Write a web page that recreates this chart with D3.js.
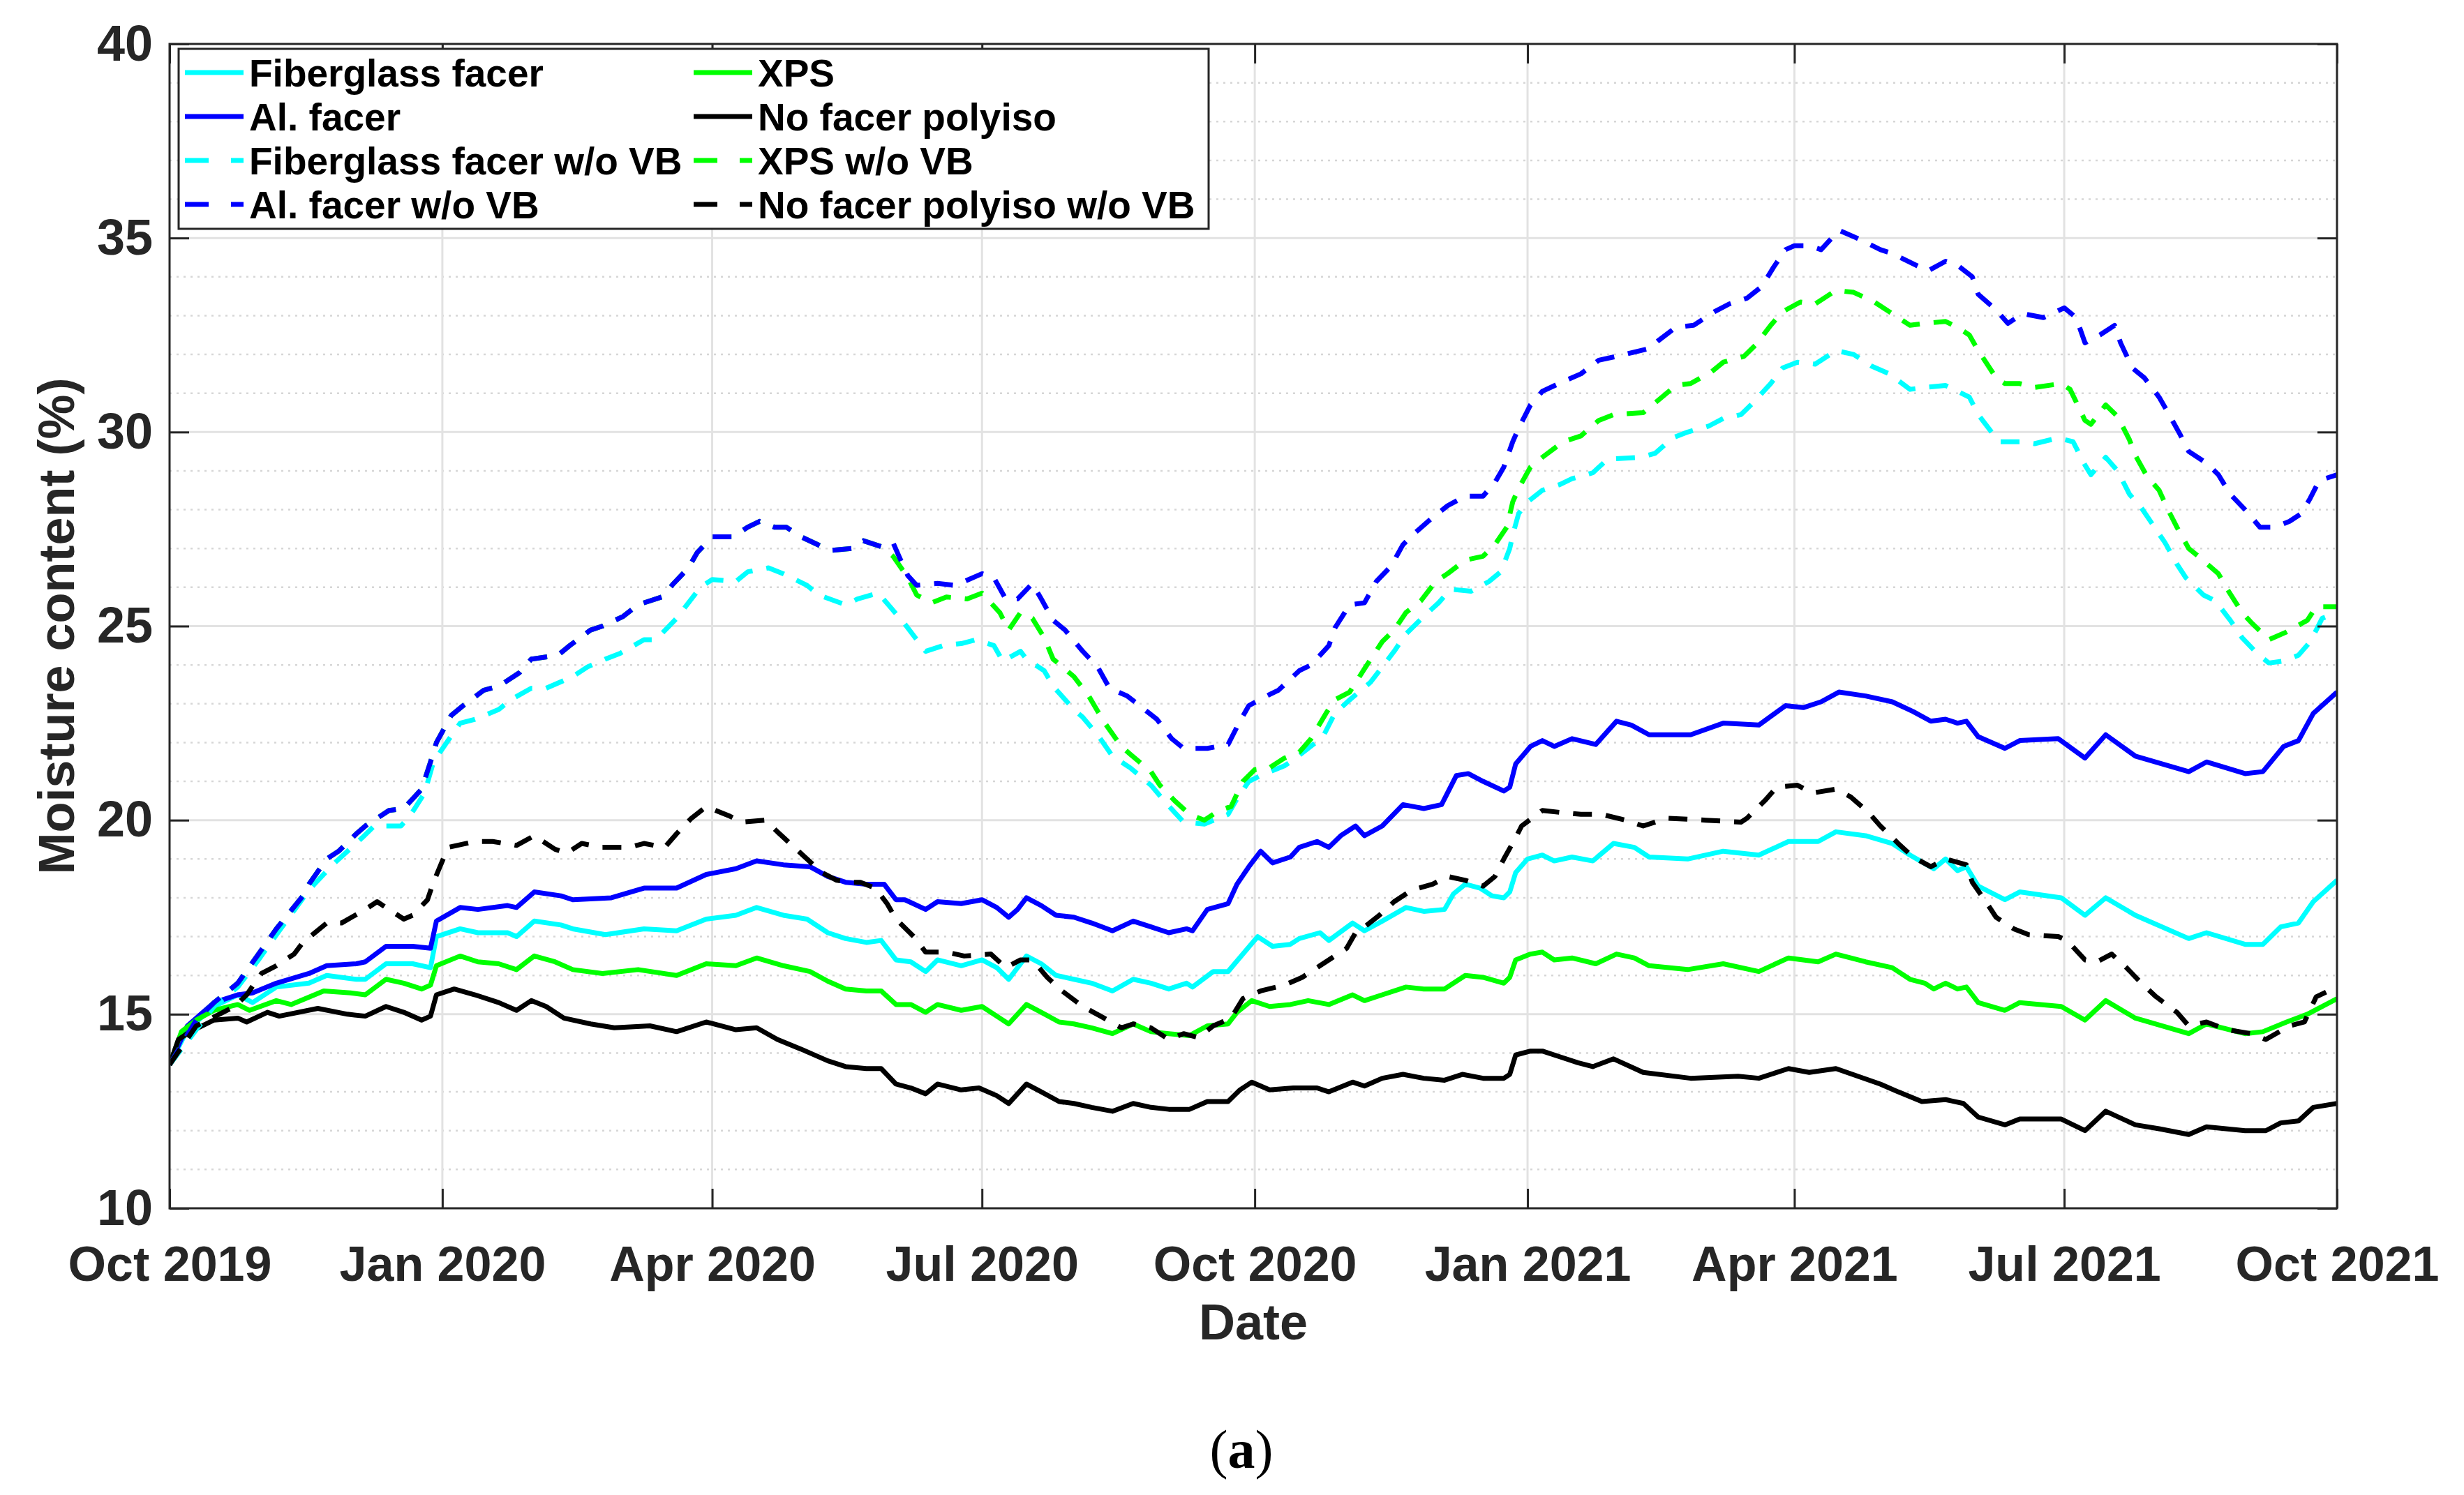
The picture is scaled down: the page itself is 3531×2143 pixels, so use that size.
<!DOCTYPE html>
<html lang="en">
<head>
<meta charset="UTF-8">
<title>Moisture content</title>
<script src="https://cdn.jsdelivr.net/npm/d3@7"></script>
<style>
  body { margin: 0; background: #fff; }
  text { font-family: "Liberation Sans", Arial, sans-serif; font-weight: bold; fill: #262626; }
</style>
</head>
<body>
<svg id="main" width="3531" height="2143"></svg>
<script>
// values: [date, moisture content %]
const fiberglass = [["2019-10-01",13.7],["2019-10-07",14.6],["2019-10-16",15.2],["2019-10-24",15.5],["2019-10-29",15.3],["2019-11-06",15.7],["2019-11-17",15.8],["2019-11-23",16.0],["2019-12-03",15.9],["2019-12-06",15.9],["2019-12-13",16.3],["2019-12-22",16.3],["2019-12-28",16.2],["2019-12-30",17.0],["2020-01-07",17.2],["2020-01-13",17.1],["2020-01-23",17.1],["2020-01-26",17.0],["2020-02-01",17.4],["2020-02-10",17.3],["2020-02-14",17.2],["2020-02-25",17.05],["2020-03-09",17.2],["2020-03-20",17.15],["2020-03-30",17.45],["2020-04-09",17.55],["2020-04-16",17.75],["2020-04-25",17.55],["2020-05-03",17.45],["2020-05-10",17.1],["2020-05-16",16.95],["2020-05-23",16.85],["2020-05-28",16.9],["2020-06-02",16.4],["2020-06-07",16.35],["2020-06-12",16.1],["2020-06-16",16.4],["2020-06-24",16.25],["2020-07-01",16.4],["2020-07-06",16.2],["2020-07-10",15.9],["2020-07-16",16.5],["2020-07-21",16.3],["2020-07-26",16.0],["2020-08-01",15.9],["2020-08-07",15.8],["2020-08-14",15.6],["2020-08-21",15.9],["2020-08-27",15.8],["2020-09-02",15.65],["2020-09-08",15.8],["2020-09-10",15.7],["2020-09-17",16.1],["2020-09-22",16.1],["2020-09-27",16.55],["2020-10-02",17.0],["2020-10-07",16.75],["2020-10-13",16.8],["2020-10-16",16.95],["2020-10-23",17.1],["2020-10-26",16.9],["2020-11-03",17.35],["2020-11-07",17.15],["2020-11-13",17.4],["2020-11-21",17.75],["2020-11-27",17.65],["2020-12-04",17.7],["2020-12-07",18.1],["2020-12-11",18.35],["2020-12-16",18.25],["2020-12-20",18.05],["2020-12-24",18.0],["2020-12-26",18.15],["2020-12-28",18.65],["2021-01-01",19.0],["2021-01-06",19.1],["2021-01-10",18.95],["2021-01-16",19.05],["2021-01-23",18.95],["2021-01-30",19.4],["2021-02-06",19.3],["2021-02-11",19.05],["2021-02-24",19.0],["2021-03-08",19.2],["2021-03-20",19.1],["2021-03-30",19.45],["2021-04-09",19.45],["2021-04-15",19.7],["2021-04-25",19.6],["2021-05-04",19.4],["2021-05-10",19.1],["2021-05-18",18.75],["2021-05-22",19.0],["2021-05-26",18.7],["2021-05-29",18.8],["2021-06-02",18.3],["2021-06-11",17.95],["2021-06-16",18.15],["2021-06-30",18.0],["2021-07-08",17.55],["2021-07-15",18.0],["2021-07-25",17.55],["2021-08-12",16.95],["2021-08-18",17.1],["2021-08-31",16.8],["2021-09-06",16.8],["2021-09-12",17.25],["2021-09-18",17.35],["2021-09-23",17.9],["2021-10-01",18.45]];

const alFacer = [["2019-10-01",13.7],["2019-10-07",14.7],["2019-10-16",15.3],["2019-10-24",15.5],["2019-10-29",15.55],["2019-11-06",15.8],["2019-11-17",16.05],["2019-11-23",16.25],["2019-12-03",16.3],["2019-12-06",16.35],["2019-12-13",16.75],["2019-12-22",16.75],["2019-12-28",16.7],["2019-12-30",17.4],["2020-01-07",17.75],["2020-01-13",17.7],["2020-01-23",17.8],["2020-01-26",17.75],["2020-02-01",18.15],["2020-02-10",18.05],["2020-02-14",17.95],["2020-02-27",18.0],["2020-03-09",18.25],["2020-03-20",18.25],["2020-03-30",18.6],["2020-04-09",18.75],["2020-04-16",18.95],["2020-04-25",18.85],["2020-05-04",18.8],["2020-05-10",18.55],["2020-05-16",18.4],["2020-05-23",18.35],["2020-05-29",18.35],["2020-06-02",17.95],["2020-06-05",17.95],["2020-06-12",17.7],["2020-06-16",17.9],["2020-06-24",17.85],["2020-07-01",17.95],["2020-07-06",17.75],["2020-07-10",17.5],["2020-07-13",17.7],["2020-07-16",18.0],["2020-07-21",17.8],["2020-07-26",17.55],["2020-08-01",17.5],["2020-08-07",17.35],["2020-08-14",17.15],["2020-08-21",17.4],["2020-08-27",17.25],["2020-09-02",17.1],["2020-09-08",17.2],["2020-09-10",17.15],["2020-09-15",17.7],["2020-09-22",17.85],["2020-09-25",18.35],["2020-09-29",18.8],["2020-10-03",19.2],["2020-10-07",18.9],["2020-10-13",19.05],["2020-10-16",19.3],["2020-10-22",19.45],["2020-10-26",19.3],["2020-10-30",19.6],["2020-11-04",19.85],["2020-11-07",19.6],["2020-11-13",19.85],["2020-11-20",20.4],["2020-11-27",20.3],["2020-12-03",20.4],["2020-12-08",21.15],["2020-12-12",21.2],["2020-12-17",21.0],["2020-12-24",20.75],["2020-12-26",20.85],["2020-12-28",21.45],["2021-01-02",21.9],["2021-01-06",22.05],["2021-01-10",21.9],["2021-01-16",22.1],["2021-01-24",21.95],["2021-01-31",22.55],["2021-02-05",22.45],["2021-02-11",22.2],["2021-02-25",22.2],["2021-03-08",22.5],["2021-03-20",22.45],["2021-03-29",22.95],["2021-04-04",22.9],["2021-04-10",23.05],["2021-04-16",23.3],["2021-04-25",23.2],["2021-05-04",23.05],["2021-05-11",22.8],["2021-05-17",22.55],["2021-05-22",22.6],["2021-05-26",22.5],["2021-05-29",22.55],["2021-06-02",22.15],["2021-06-11",21.85],["2021-06-16",22.05],["2021-06-29",22.1],["2021-07-08",21.6],["2021-07-15",22.2],["2021-07-25",21.65],["2021-08-12",21.25],["2021-08-18",21.5],["2021-08-31",21.2],["2021-09-06",21.25],["2021-09-13",21.9],["2021-09-18",22.05],["2021-09-23",22.75],["2021-10-01",23.3]];

const xps = [["2019-10-01",13.7],["2019-10-05",14.55],["2019-10-10",14.85],["2019-10-16",15.1],["2019-10-24",15.25],["2019-10-28",15.1],["2019-11-06",15.35],["2019-11-11",15.25],["2019-11-22",15.6],["2019-12-01",15.55],["2019-12-06",15.5],["2019-12-13",15.9],["2019-12-19",15.8],["2019-12-25",15.65],["2019-12-28",15.75],["2019-12-30",16.25],["2020-01-07",16.5],["2020-01-13",16.35],["2020-01-20",16.3],["2020-01-26",16.15],["2020-02-01",16.5],["2020-02-08",16.35],["2020-02-14",16.15],["2020-02-24",16.05],["2020-03-07",16.15],["2020-03-20",16.0],["2020-03-30",16.3],["2020-04-09",16.25],["2020-04-16",16.45],["2020-04-25",16.25],["2020-05-04",16.1],["2020-05-10",15.85],["2020-05-16",15.65],["2020-05-23",15.6],["2020-05-28",15.6],["2020-06-02",15.25],["2020-06-07",15.25],["2020-06-12",15.05],["2020-06-16",15.25],["2020-06-24",15.1],["2020-07-01",15.2],["2020-07-06",14.95],["2020-07-10",14.75],["2020-07-16",15.25],["2020-07-21",15.05],["2020-07-27",14.8],["2020-08-01",14.75],["2020-08-07",14.65],["2020-08-14",14.5],["2020-08-21",14.75],["2020-08-27",14.55],["2020-09-02",14.5],["2020-09-09",14.45],["2020-09-15",14.7],["2020-09-22",14.75],["2020-09-25",15.05],["2020-09-30",15.35],["2020-10-06",15.2],["2020-10-13",15.25],["2020-10-19",15.35],["2020-10-26",15.25],["2020-11-03",15.5],["2020-11-07",15.35],["2020-11-13",15.5],["2020-11-21",15.7],["2020-11-27",15.65],["2020-12-04",15.65],["2020-12-11",16.0],["2020-12-17",15.95],["2020-12-24",15.8],["2020-12-26",15.95],["2020-12-28",16.4],["2021-01-02",16.55],["2021-01-06",16.6],["2021-01-10",16.4],["2021-01-16",16.45],["2021-01-24",16.3],["2021-01-31",16.55],["2021-02-06",16.45],["2021-02-11",16.25],["2021-02-24",16.15],["2021-03-08",16.3],["2021-03-20",16.1],["2021-03-30",16.45],["2021-04-09",16.35],["2021-04-15",16.55],["2021-04-25",16.35],["2021-05-04",16.2],["2021-05-10",15.9],["2021-05-15",15.8],["2021-05-18",15.65],["2021-05-22",15.8],["2021-05-26",15.65],["2021-05-29",15.7],["2021-06-02",15.3],["2021-06-11",15.1],["2021-06-16",15.3],["2021-06-30",15.2],["2021-07-08",14.85],["2021-07-15",15.35],["2021-07-25",14.9],["2021-08-12",14.5],["2021-08-18",14.75],["2021-08-31",14.5],["2021-09-06",14.55],["2021-09-14",14.8],["2021-09-21",15.0],["2021-10-01",15.4]];

const noFacer = [["2019-10-01",13.7],["2019-10-04",14.35],["2019-10-08",14.55],["2019-10-16",14.85],["2019-10-24",14.9],["2019-10-27",14.8],["2019-11-03",15.05],["2019-11-07",14.95],["2019-11-20",15.15],["2019-11-30",15.0],["2019-12-06",14.95],["2019-12-13",15.2],["2019-12-19",15.05],["2019-12-25",14.85],["2019-12-28",14.95],["2019-12-30",15.5],["2020-01-05",15.65],["2020-01-12",15.5],["2020-01-20",15.3],["2020-01-26",15.1],["2020-01-31",15.35],["2020-02-05",15.2],["2020-02-11",14.9],["2020-02-20",14.75],["2020-02-28",14.65],["2020-03-11",14.7],["2020-03-20",14.55],["2020-03-30",14.8],["2020-04-09",14.6],["2020-04-16",14.65],["2020-04-23",14.35],["2020-05-01",14.1],["2020-05-10",13.8],["2020-05-16",13.65],["2020-05-23",13.6],["2020-05-28",13.6],["2020-06-02",13.2],["2020-06-07",13.1],["2020-06-12",12.95],["2020-06-16",13.2],["2020-06-24",13.05],["2020-06-30",13.1],["2020-07-06",12.9],["2020-07-10",12.7],["2020-07-16",13.2],["2020-07-21",13.0],["2020-07-27",12.75],["2020-08-01",12.7],["2020-08-07",12.6],["2020-08-14",12.5],["2020-08-21",12.7],["2020-08-27",12.6],["2020-09-02",12.55],["2020-09-09",12.55],["2020-09-15",12.75],["2020-09-22",12.75],["2020-09-26",13.05],["2020-09-30",13.25],["2020-10-06",13.05],["2020-10-14",13.1],["2020-10-22",13.1],["2020-10-26",13.0],["2020-11-03",13.25],["2020-11-07",13.15],["2020-11-13",13.35],["2020-11-20",13.45],["2020-11-27",13.35],["2020-12-04",13.3],["2020-12-10",13.45],["2020-12-17",13.35],["2020-12-24",13.35],["2020-12-26",13.45],["2020-12-28",13.95],["2021-01-02",14.05],["2021-01-06",14.05],["2021-01-12",13.9],["2021-01-18",13.75],["2021-01-23",13.65],["2021-01-30",13.85],["2021-02-09",13.5],["2021-02-25",13.35],["2021-03-13",13.4],["2021-03-20",13.35],["2021-03-30",13.6],["2021-04-06",13.5],["2021-04-15",13.6],["2021-04-30",13.2],["2021-05-06",13.0],["2021-05-14",12.75],["2021-05-22",12.8],["2021-05-28",12.7],["2021-06-02",12.35],["2021-06-11",12.15],["2021-06-16",12.3],["2021-06-30",12.3],["2021-07-08",12.0],["2021-07-15",12.5],["2021-07-25",12.15],["2021-08-02",12.05],["2021-08-12",11.9],["2021-08-18",12.1],["2021-08-31",12.0],["2021-09-07",12.0],["2021-09-12",12.2],["2021-09-18",12.25],["2021-09-23",12.6],["2021-10-01",12.7]];

const fiberglassVB = [["2019-10-01",13.7],["2019-10-16",15.2],["2019-10-24",15.7],["2019-10-31",16.4],["2019-11-07",17.15],["2019-11-17",18.2],["2019-11-25",18.85],["2019-12-05",19.55],["2019-12-09",19.85],["2019-12-18",19.85],["2019-12-21",20.1],["2019-12-26",20.7],["2019-12-29",21.5],["2020-01-02",21.95],["2020-01-07",22.5],["2020-01-12",22.6],["2020-01-20",22.85],["2020-01-24",23.1],["2020-01-31",23.4],["2020-02-05",23.4],["2020-02-14",23.7],["2020-02-19",23.95],["2020-02-25",24.15],["2020-03-01",24.3],["2020-03-09",24.65],["2020-03-13",24.65],["2020-03-20",25.2],["2020-03-24",25.6],["2020-03-28",26.0],["2020-04-01",26.2],["2020-04-09",26.15],["2020-04-13",26.4],["2020-04-20",26.5],["2020-04-25",26.35],["2020-05-03",26.05],["2020-05-07",25.8],["2020-05-16",25.55],["2020-05-20",25.7],["2020-05-27",25.85],["2020-05-31",25.5],["2020-06-05",25.05],["2020-06-12",24.35],["2020-06-18",24.5],["2020-06-24",24.55],["2020-06-29",24.65],["2020-07-05",24.5],["2020-07-08",24.1],["2020-07-14",24.35],["2020-07-16",24.15],["2020-07-22",23.85],["2020-07-25",23.45],["2020-08-01",22.85],["2020-08-04",22.65],["2020-08-09",22.2],["2020-08-14",21.65],["2020-08-20",21.35],["2020-08-27",20.9],["2020-09-01",20.45],["2020-09-07",19.95],["2020-09-14",19.9],["2020-09-22",20.15],["2020-09-25",20.55],["2020-09-29",21.0],["2020-10-03",21.15],["2020-10-11",21.4],["2020-10-14",21.55],["2020-10-19",21.85],["2020-10-24",22.15],["2020-10-28",22.75],["2020-11-02",23.1],["2020-11-09",23.55],["2020-11-17",24.35],["2020-11-21",24.8],["2020-11-27",25.25],["2020-12-02",25.6],["2020-12-06",25.95],["2020-12-13",25.9],["2020-12-19",26.15],["2020-12-23",26.4],["2020-12-26",27.0],["2020-12-27",27.35],["2020-12-29",27.9],["2021-01-01",28.2],["2021-01-06",28.5],["2021-01-12",28.65],["2021-01-16",28.8],["2021-01-23",28.95],["2021-01-28",29.3],["2021-02-08",29.35],["2021-02-13",29.45],["2021-02-19",29.85],["2021-02-24",30.0],["2021-03-03",30.15],["2021-03-08",30.35],["2021-03-14",30.45],["2021-03-18",30.75],["2021-03-24",31.25],["2021-03-28",31.65],["2021-04-02",31.8],["2021-04-08",31.75],["2021-04-15",32.1],["2021-04-21",32.0],["2021-04-27",31.7],["2021-05-03",31.5],["2021-05-10",31.1],["2021-05-15",31.15],["2021-05-22",31.2],["2021-05-26",31.05],["2021-05-30",30.9],["2021-06-02",30.45],["2021-06-06",30.05],["2021-06-09",29.75],["2021-06-16",29.75],["2021-06-21",29.7],["2021-06-29",29.85],["2021-07-04",29.75],["2021-07-08",29.15],["2021-07-10",28.9],["2021-07-15",29.35],["2021-07-19",29.0],["2021-07-23",28.4],["2021-07-27",28.05],["2021-07-31",27.6],["2021-08-04",27.15],["2021-08-08",26.6],["2021-08-11",26.25],["2021-08-17",25.8],["2021-08-21",25.65],["2021-08-26",25.15],["2021-08-30",24.7],["2021-09-04",24.3],["2021-09-08",24.05],["2021-09-13",24.1],["2021-09-18",24.25],["2021-09-22",24.6],["2021-09-26",25.2],["2021-10-01",25.35]];

// Al. facer w/o VB and XPS w/o VB lie on top of each other until late May 2020
const vbShared = [["2019-10-01",13.7],["2019-10-10",14.85],["2019-10-16",15.3],["2019-10-24",15.8],["2019-10-31",16.55],["2019-11-06",17.2],["2019-11-15",18.05],["2019-11-17",18.35],["2019-11-23",19.0],["2019-11-27",19.2],["2019-12-03",19.65],["2019-12-06",19.85],["2019-12-14",20.25],["2019-12-19",20.3],["2019-12-25",20.8],["2019-12-28",21.5],["2019-12-30",22.0],["2020-01-04",22.7],["2020-01-08",22.95],["2020-01-15",23.35],["2020-01-20",23.45],["2020-01-27",23.8],["2020-01-31",24.15],["2020-02-09",24.25],["2020-02-13",24.5],["2020-02-20",24.9],["2020-02-24",25.0],["2020-03-02",25.25],["2020-03-07",25.55],["2020-03-15",25.75],["2020-03-19",26.1],["2020-03-24",26.5],["2020-03-27",26.9],["2020-04-01",27.3],["2020-04-08",27.3],["2020-04-13",27.55],["2020-04-17",27.7],["2020-04-22",27.55],["2020-04-26",27.55],["2020-05-01",27.3],["2020-05-08",27.05],["2020-05-11",26.95],["2020-05-18",27.0],["2020-05-22",27.2],["2020-05-28",27.05]];

const alFacerVB = vbShared.concat([["2020-06-01",27.15],["2020-06-03",26.8],["2020-06-06",26.3],["2020-06-09",26.05],["2020-06-16",26.1],["2020-06-22",26.05],["2020-07-01",26.35],["2020-07-05",26.25],["2020-07-09",25.7],["2020-07-13",25.7],["2020-07-18",26.1],["2020-07-21",25.7],["2020-07-25",25.15],["2020-07-29",24.9],["2020-08-04",24.35],["2020-08-09",23.95],["2020-08-13",23.4],["2020-08-19",23.2],["2020-08-24",22.9],["2020-08-29",22.6],["2020-09-03",22.1],["2020-09-07",21.85],["2020-09-15",21.85],["2020-09-22",21.95],["2020-09-26",22.55],["2020-09-29",22.95],["2020-10-05",23.2],["2020-10-09",23.35],["2020-10-16",23.85],["2020-10-20",24.0],["2020-10-26",24.5],["2020-10-28",24.95],["2020-11-02",25.55],["2020-11-07",25.6],["2020-11-11",26.15],["2020-11-16",26.55],["2020-11-20",27.1],["2020-11-24",27.4],["2020-11-30",27.8],["2020-12-05",28.1],["2020-12-11",28.35],["2020-12-17",28.35],["2020-12-21",28.7],["2020-12-24",29.1],["2020-12-27",29.75],["2020-12-29",30.1],["2021-01-02",30.7],["2021-01-06",31.05],["2021-01-13",31.3],["2021-01-19",31.5],["2021-01-25",31.85],["2021-01-31",31.95],["2021-02-11",32.15],["2021-02-14",32.35],["2021-02-20",32.7],["2021-02-26",32.75],["2021-03-05",33.1],["2021-03-10",33.3],["2021-03-16",33.45],["2021-03-21",33.75],["2021-03-25",34.25],["2021-03-29",34.7],["2021-04-01",34.8],["2021-04-06",34.8],["2021-04-10",34.7],["2021-04-16",35.2],["2021-04-22",35.0],["2021-04-30",34.7],["2021-05-04",34.6],["2021-05-12",34.3],["2021-05-16",34.15],["2021-05-22",34.4],["2021-05-26",34.3],["2021-05-31",34.0],["2021-06-02",33.55],["2021-06-08",33.15],["2021-06-12",32.8],["2021-06-17",33.05],["2021-06-24",32.95],["2021-07-01",33.2],["2021-07-05",32.95],["2021-07-08",32.3],["2021-07-13",32.5],["2021-07-18",32.75],["2021-07-20",32.3],["2021-07-24",31.65],["2021-07-28",31.4],["2021-08-02",30.9],["2021-08-05",30.5],["2021-08-09",29.95],["2021-08-12",29.5],["2021-08-18",29.2],["2021-08-22",28.9],["2021-08-26",28.4],["2021-08-31",28.0],["2021-09-05",27.55],["2021-09-10",27.55],["2021-09-15",27.7],["2021-09-19",27.9],["2021-09-22",28.3],["2021-09-25",28.75],["2021-10-01",28.9]]);

const xpsVB = vbShared.concat([["2020-06-01",26.8],["2020-06-06",26.25],["2020-06-09",25.8],["2020-06-14",25.6],["2020-06-19",25.75],["2020-06-26",25.7],["2020-07-01",25.85],["2020-07-07",25.35],["2020-07-10",24.9],["2020-07-14",25.35],["2020-07-18",25.2],["2020-07-22",24.7],["2020-07-25",24.15],["2020-08-01",23.7],["2020-08-06",23.2],["2020-08-11",22.55],["2020-08-17",21.9],["2020-08-20",21.7],["2020-08-27",21.25],["2020-08-30",20.9],["2020-09-04",20.5],["2020-09-09",20.15],["2020-09-14",20.0],["2020-09-19",20.25],["2020-09-23",20.35],["2020-09-27",21.0],["2020-10-01",21.3],["2020-10-06",21.35],["2020-10-11",21.6],["2020-10-16",21.75],["2020-10-20",22.1],["2020-10-25",22.75],["2020-10-28",23.1],["2020-11-02",23.3],["2020-11-07",23.9],["2020-11-13",24.6],["2020-11-17",24.9],["2020-11-21",25.35],["2020-11-26",25.65],["2020-12-01",26.15],["2020-12-05",26.35],["2020-12-11",26.7],["2020-12-17",26.8],["2020-12-21",27.1],["2020-12-25",27.55],["2020-12-27",28.2],["2020-12-29",28.55],["2021-01-02",29.1],["2021-01-06",29.35],["2021-01-13",29.75],["2021-01-19",29.9],["2021-01-25",30.3],["2021-01-30",30.45],["2021-02-09",30.5],["2021-02-13",30.75],["2021-02-20",31.2],["2021-02-25",31.25],["2021-03-04",31.55],["2021-03-08",31.8],["2021-03-15",31.95],["2021-03-19",32.25],["2021-03-24",32.75],["2021-03-28",33.1],["2021-04-03",33.35],["2021-04-08",33.3],["2021-04-15",33.65],["2021-04-21",33.6],["2021-04-28",33.35],["2021-05-03",33.1],["2021-05-10",32.75],["2021-05-15",32.8],["2021-05-22",32.85],["2021-05-26",32.7],["2021-05-30",32.5],["2021-06-02",32.1],["2021-06-08",31.4],["2021-06-11",31.25],["2021-06-16",31.25],["2021-06-21",31.15],["2021-06-30",31.25],["2021-07-03",31.1],["2021-07-08",30.3],["2021-07-10",30.2],["2021-07-15",30.7],["2021-07-19",30.4],["2021-07-23",29.8],["2021-07-25",29.4],["2021-07-29",28.85],["2021-08-02",28.5],["2021-08-05",28.0],["2021-08-08",27.55],["2021-08-12",27.0],["2021-08-16",26.75],["2021-08-22",26.35],["2021-08-25",25.95],["2021-08-30",25.35],["2021-09-02",25.1],["2021-09-08",24.65],["2021-09-14",24.85],["2021-09-21",25.15],["2021-09-24",25.5],["2021-10-01",25.5]]);

const noFacerVB = [["2019-10-01",13.7],["2019-10-10",14.7],["2019-10-23",15.2],["2019-10-27",15.5],["2019-11-01",16.05],["2019-11-06",16.25],["2019-11-12",16.55],["2019-11-15",16.85],["2019-11-23",17.35],["2019-11-28",17.35],["2019-12-06",17.7],["2019-12-10",17.9],["2019-12-19",17.45],["2019-12-22",17.55],["2019-12-27",17.95],["2019-12-29",18.4],["2020-01-01",18.95],["2020-01-03",19.3],["2020-01-12",19.45],["2020-01-18",19.45],["2020-01-26",19.35],["2020-02-01",19.6],["2020-02-08",19.25],["2020-02-12",19.15],["2020-02-17",19.4],["2020-02-24",19.3],["2020-03-04",19.3],["2020-03-09",19.4],["2020-03-16",19.3],["2020-03-20",19.65],["2020-03-25",20.05],["2020-03-30",20.35],["2020-04-07",20.1],["2020-04-11",19.95],["2020-04-19",20.0],["2020-04-23",19.7],["2020-04-28",19.35],["2020-05-03",19.0],["2020-05-08",18.65],["2020-05-13",18.45],["2020-05-18",18.4],["2020-05-21",18.4],["2020-05-26",18.25],["2020-05-30",17.85],["2020-06-02",17.45],["2020-06-08",17.0],["2020-06-12",16.6],["2020-06-19",16.6],["2020-06-25",16.5],["2020-07-04",16.55],["2020-07-09",16.2],["2020-07-14",16.4],["2020-07-18",16.4],["2020-07-23",15.95],["2020-07-28",15.6],["2020-08-04",15.2],["2020-08-10",14.95],["2020-08-17",14.65],["2020-08-21",14.75],["2020-08-27",14.65],["2020-09-02",14.35],["2020-09-07",14.5],["2020-09-12",14.4],["2020-09-17",14.7],["2020-09-23",14.9],["2020-09-27",15.4],["2020-10-03",15.6],["2020-10-11",15.75],["2020-10-17",15.95],["2020-10-23",16.25],["2020-11-01",16.7],["2020-11-04",17.1],["2020-11-07",17.25],["2020-11-12",17.55],["2020-11-17",17.9],["2020-11-23",18.2],["2020-11-30",18.35],["2020-12-05",18.55],["2020-12-11",18.45],["2020-12-17",18.3],["2020-12-21",18.55],["2020-12-24",19.0],["2020-12-28",19.55],["2020-12-30",19.85],["2021-01-06",20.25],["2021-01-12",20.2],["2021-01-19",20.15],["2021-01-26",20.15],["2021-02-03",20.0],["2021-02-09",19.85],["2021-02-17",20.05],["2021-03-02",20.0],["2021-03-14",19.95],["2021-03-16",20.05],["2021-03-22",20.5],["2021-03-26",20.85],["2021-04-02",20.9],["2021-04-07",20.7],["2021-04-15",20.8],["2021-04-20",20.6],["2021-04-26",20.2],["2021-04-30",19.85],["2021-05-06",19.4],["2021-05-11",19.05],["2021-05-17",18.8],["2021-05-22",19.0],["2021-05-29",18.85],["2021-05-31",18.4],["2021-06-05",17.85],["2021-06-08",17.5],["2021-06-14",17.2],["2021-06-19",17.05],["2021-06-29",17.0],["2021-07-02",16.9],["2021-07-08",16.4],["2021-07-12",16.35],["2021-07-17",16.55],["2021-07-22",16.2],["2021-07-27",15.8],["2021-08-01",15.45],["2021-08-08",15.05],["2021-08-12",14.7],["2021-08-18",14.8],["2021-08-25",14.6],["2021-09-02",14.5],["2021-09-07",14.35],["2021-09-15",14.7],["2021-09-20",14.8],["2021-09-24",15.45],["2021-10-01",15.7]];

const xTickDates = ["2019-10-01","2020-01-01","2020-04-01","2020-07-01","2020-10-01","2021-01-01","2021-04-01","2021-07-01","2021-10-01"];
const xTickLabels = ["Oct 2019","Jan 2020","Apr 2020","Jul 2020","Oct 2020","Jan 2021","Apr 2021","Jul 2021","Oct 2021"];
const yTicks = [10, 15, 20, 25, 30, 35, 40];

// ---------------------------------------------------------------
const svg = d3.select("svg#main");
const pLeft = 243, pRight = 3349, pTop = 63, pBottom = 1732;
const parse = d3.timeParse("%Y-%m-%d");

const x = d3.scaleTime()
    .domain([parse(xTickDates[0]), parse(xTickDates[xTickDates.length - 1])])
    .range([pLeft, pRight]);
const y = d3.scaleLinear().domain([10, 40]).range([pBottom, pTop]);

// minor grid (dotted, every 1%)
svg.append("g").selectAll("line")
    .data(d3.range(11, 40).filter(v => v % 5 !== 0))
    .enter().append("line")
    .attr("x1", pLeft).attr("x2", pRight)
    .attr("y1", d => y(d)).attr("y2", d => y(d))
    .attr("stroke", "#d6d6d6").attr("stroke-width", 2.5)
    .attr("stroke-dasharray", "3,7");

// major grid
svg.append("g").selectAll("line")
    .data(yTicks.slice(1, -1))
    .enter().append("line")
    .attr("x1", pLeft).attr("x2", pRight)
    .attr("y1", d => y(d)).attr("y2", d => y(d))
    .attr("stroke", "#e2e2e2").attr("stroke-width", 3);
svg.append("g").selectAll("line")
    .data(xTickDates.slice(1, -1))
    .enter().append("line")
    .attr("x1", d => x(parse(d))).attr("x2", d => x(parse(d)))
    .attr("y1", pTop).attr("y2", pBottom)
    .attr("stroke", "#e2e2e2").attr("stroke-width", 3);

// data lines
svg.append("clipPath").attr("id", "plotclip")
    .append("rect").attr("x", pLeft).attr("y", pTop)
    .attr("width", pRight - pLeft).attr("height", pBottom - pTop);

const dash = "27,20";
const series = [
    {name: "Fiberglass facer", data: fiberglass, color: "#00ffff", dash: null},
    {name: "Al. facer", data: alFacer, color: "#0000ff", dash: null},
    {name: "XPS", data: xps, color: "#00ff00", dash: null},
    {name: "No facer polyiso", data: noFacer, color: "#000000", dash: null},
    {name: "Fiberglass facer w/o VB", data: fiberglassVB, color: "#00ffff", dash: dash},
    {name: "XPS w/o VB", data: xpsVB, color: "#00ff00", dash: dash},
    {name: "Al. facer w/o VB", data: alFacerVB, color: "#0000ff", dash: dash},
    {name: "No facer polyiso w/o VB", data: noFacerVB, color: "#000000", dash: dash}
];

const line = d3.line()
    .x(d => x(parse(d[0])))
    .y(d => y(d[1]));

svg.append("g").attr("clip-path", "url(#plotclip)")
    .selectAll("path")
    .data(series)
    .enter().append("path")
    .attr("d", d => line(d.data))
    .attr("fill", "none")
    .attr("stroke", d => d.color)
    .attr("stroke-width", 7)
    .attr("stroke-linejoin", "round")
    .attr("stroke-dasharray", d => d.dash);

// axes (ticks point inward)
const axisColor = "#262626";
function styleAxis(g, size) {
    g.select(".domain").remove();
    g.selectAll(".tick line").attr("stroke", axisColor).attr("stroke-width", 3);
    g.selectAll(".tick text").attr("fill", axisColor)
        .style("font-size", size + "px").style("font-weight", "bold")
        .style("font-family", '"Liberation Sans", Arial, sans-serif');
}

svg.append("g").attr("transform", `translate(${pLeft},0)`)
    .call(d3.axisLeft(y).tickValues(yTicks).tickSizeInner(-28).tickSizeOuter(0).tickPadding(24))
    .call(styleAxis, 72);
svg.append("g").attr("transform", `translate(${pRight},0)`)
    .call(d3.axisRight(y).tickValues(yTicks).tickSizeInner(-28).tickSizeOuter(0).tickFormat(""))
    .call(styleAxis, 72);
svg.append("g").attr("transform", `translate(0,${pBottom})`)
    .call(d3.axisBottom(x).tickValues(xTickDates.map(parse)).tickSizeInner(-28).tickSizeOuter(0)
        .tickPadding(54).tickFormat((d, i) => xTickLabels[i]))
    .call(styleAxis, 70);
svg.append("g").attr("transform", `translate(0,${pTop})`)
    .call(d3.axisTop(x).tickValues(xTickDates.map(parse)).tickSizeInner(-28).tickSizeOuter(0).tickFormat(""))
    .call(styleAxis, 72);

svg.append("rect")
    .attr("x", pLeft).attr("y", pTop)
    .attr("width", pRight - pLeft).attr("height", pBottom - pTop)
    .attr("fill", "none").attr("stroke", axisColor).attr("stroke-width", 3);

// axis titles
svg.append("text")
    .attr("x", (pLeft + pRight) / 2).attr("y", 1920)
    .attr("text-anchor", "middle").style("font-size", "72px")
    .text("Date");
svg.append("text")
    .attr("transform", `translate(106,${(pTop + pBottom) / 2}) rotate(-90)`)
    .attr("text-anchor", "middle").style("font-size", "72px")
    .text("Moisture content (%)");

// legend
const legend = svg.append("g");
legend.append("rect")
    .attr("x", 256).attr("y", 70).attr("width", 1476).attr("height", 258)
    .attr("fill", "#fff").attr("stroke", axisColor).attr("stroke-width", 3);

const legendOrder = ["Fiberglass facer", "Al. facer", "Fiberglass facer w/o VB", "Al. facer w/o VB",
                     "XPS", "No facer polyiso", "XPS w/o VB", "No facer polyiso w/o VB"];
const cols = [265, 994];
legendOrder.forEach((name, i) => {
    const s = series.find(d => d.name === name);
    const cx = cols[Math.floor(i / 4)];
    const cy = 104 + (i % 4) * 63;
    legend.append("line")
        .attr("x1", cx).attr("x2", cx + 84)
        .attr("y1", cy).attr("y2", cy)
        .attr("stroke", s.color).attr("stroke-width", 7)
        .attr("stroke-dasharray", s.dash ? "34,32" : null);
    legend.append("text")
        .attr("x", cx + 92).attr("y", cy + 20)
        .style("font-size", "55px").style("fill", "#000")
        .text(name);
});

// panel caption
const cap = svg.append("text")
    .attr("x", 1779).attr("y", 2104).attr("text-anchor", "middle")
    .style("font-family", '"Liberation Serif", "Times New Roman", serif')
    .style("font-size", "78px").style("fill", "#000").style("font-weight", "normal");
cap.append("tspan").text("(");
cap.append("tspan").style("font-weight", "bold").text("a");
cap.append("tspan").text(")");
</script>
</body>
</html>
